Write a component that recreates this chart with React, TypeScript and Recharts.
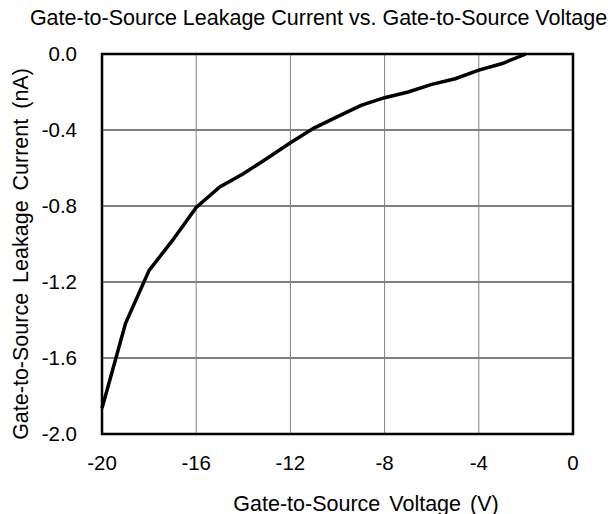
import { LineChart, Line, XAxis, YAxis, CartesianGrid, ReferenceArea } from "recharts";

// gate-to-source voltage (V)
const voltage = [-20, -19, -18, -17, -16, -15, -14, -13, -12, -11, -10, -9, -8, -7, -6, -5, -4, -3, -2];
// leakage current (nA)
const leakage = [
  -1.864, -1.417, -1.139, -0.98, -0.808, -0.7, -0.63, -0.55, -0.467, -0.39, -0.33, -0.27, -0.23, -0.2,
  -0.16, -0.13, -0.085, -0.05, 0.0,
];
const xTicks = [-20, -16, -12, -8, -4, 0];
const yTicks = [0, -0.4, -0.8, -1.2, -1.6, -2.0];

const font = '"Liberation Sans", Arial, sans-serif';

export default function App() {
  const data = voltage.map((v, i) => ({ v, i: leakage[i] }));

  return (
    <div style={{ position: "absolute", left: 0, top: 0, width: 608, height: 514, overflow: "hidden", background: "#fff", fontFamily: font }}>
      <div style={{ position: "absolute", left: 0, width: 637, top: 6, textAlign: "center", fontSize: 21.5, color: "#000", whiteSpace: "nowrap" }}>
        Gate-to-Source Leakage Current vs. Gate-to-Source Voltage
      </div>
      <LineChart width={608} height={514} data={data} margin={{ top: 54, right: 35, bottom: 0, left: 0 }}>
        <CartesianGrid vertical={false} stroke="#000" strokeWidth={1} />
        <CartesianGrid horizontal={false} stroke="#808080" strokeWidth={1} />
        <XAxis
          dataKey="v"
          type="number"
          domain={[-20, 0]}
          ticks={xTicks}
          height={80}
          axisLine={false}
          tickLine={false}
          tickSize={0}
          tickMargin={21}
          tick={{ fontSize: 20.5, fill: "#000", fontFamily: font }}
        />
        <YAxis
          type="number"
          domain={[-2, 0]}
          ticks={yTicks}
          width={102}
          axisLine={false}
          tickLine={false}
          tickSize={0}
          tickMargin={25}
          tickFormatter={(t) => Number(t).toFixed(1)}
          tick={{ fontSize: 20.5, fill: "#000", fontFamily: font }}
        />
        <Line
          type="linear"
          dataKey="i"
          stroke="#000"
          strokeWidth={3.5}
          dot={false}
          isAnimationActive={false}
        />
        <ReferenceArea x1={-20} x2={0} y1={-2} y2={0} fill="none" stroke="#000" strokeWidth={2.5} />
      </LineChart>
      <div
        style={{
          position: "absolute",
          left: 21,
          top: 254,
          transform: "translate(-50%, -50%) rotate(-90deg)",
          fontSize: 21.5,
          wordSpacing: 4,
          whiteSpace: "nowrap",
          color: "#000",
        }}
      >
        Gate-to-Source Leakage Current (nA)
      </div>
      <div style={{ position: "absolute", left: 366, top: 504, transform: "translate(-50%, -50%)", fontSize: 21.5, wordSpacing: 3, whiteSpace: "nowrap", color: "#000" }}>
        Gate-to-Source Voltage (V)
      </div>
    </div>
  );
}
